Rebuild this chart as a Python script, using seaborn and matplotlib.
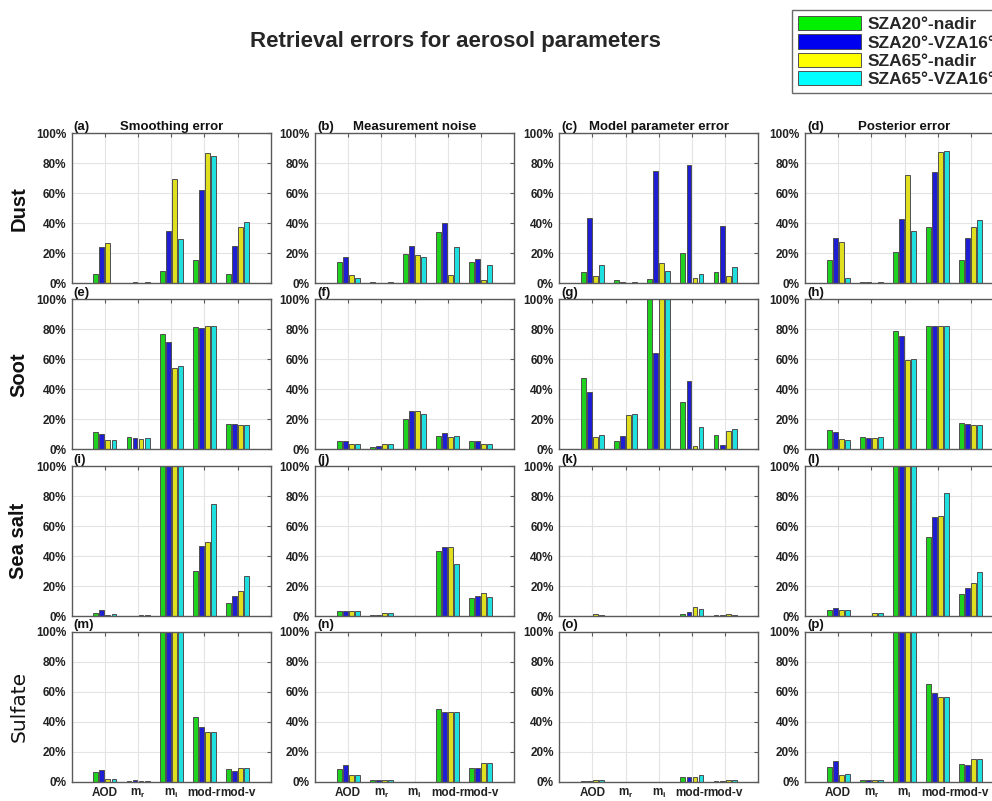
import numpy as np
import pandas as pd
import matplotlib
matplotlib.use("Agg")
import matplotlib.pyplot as plt
from matplotlib.patches import Patch
from matplotlib.ticker import FuncFormatter
import seaborn as sns

# ---------------------------------------------------------------
# Data: relative retrieval error (%) per parameter; each row is a
# parameter [AOD, m_r, m_i, mod-r, mod-v], columns are the four
# observation geometries.
# ---------------------------------------------------------------
params = ["AOD", "m_r", "m_i", "mod-r", "mod-v"]
param_labels = [r"$\mathbf{AOD}$", r"$\mathbf{m_r}$", r"$\mathbf{m_i}$",
                r"$\mathbf{mod\text{-}r}$", r"$\mathbf{mod\text{-}v}$"]
param_labels = ["AOD", r"m$_\mathbf{r}$", r"m$_\mathbf{i}$", "mod-r", "mod-v"]
scenarios = ["SZA20°-nadir", "SZA20°-VZA16°", "SZA65°-nadir", "SZA65°-VZA16°"]
colors = ["#00f000", "#0000f0", "#ffff00", "#00ffff"]

aerosols = ["Dust", "Soot", "Sea salt", "Sulfate"]
error_types = ["Smoothing error", "Measurement noise",
               "Model parameter error", "Posterior error"]

# Dust
dust_smoothing = [[6.0, 24.4, 26.8, 0.3], [0.3, 0.7, 0.2, 0.8],
                  [8.3, 35.0, 69.8, 29.8], [15.7, 62.0, 87.0, 84.6],
                  [6.5, 25.0, 37.8, 40.7]]
dust_noise = [[14.1, 17.4, 5.4, 3.4], [0.8, 0.5, 0.2, 0.6],
              [19.2, 24.6, 18.8, 17.4], [34.2, 40.0, 5.4, 24.2],
              [14.1, 16.1, 2.0, 11.9]]
dust_model = [[7.4, 43.8, 4.9, 11.9], [2.0, 0.9, 0.2, 0.7],
              [2.9, 75.0, 13.4, 8.0], [20.4, 79.0, 3.4, 6.0],
              [7.2, 38.3, 4.9, 11.0]]
dust_posterior = [[15.2, 30.0, 27.5, 3.4], [1.0, 1.0, 0.3, 1.0],
                  [20.8, 43.0, 72.5, 34.9], [37.6, 74.0, 87.2, 88.1],
                  [15.2, 30.0, 37.8, 42.5]]
# Soot
soot_smoothing = [[11.6, 10.2, 6.0, 6.0], [8.0, 7.6, 6.9, 7.3],
                  [76.7, 71.3, 54.2, 55.3], [81.6, 81.1, 82.2, 82.0],
                  [16.9, 16.7, 16.2, 16.2]]
soot_noise = [[5.3, 5.3, 3.3, 3.3], [1.6, 2.2, 3.3, 3.3],
              [20.0, 25.6, 25.3, 23.8], [8.9, 11.1, 8.0, 8.9],
              [5.3, 5.3, 3.3, 3.3]]
soot_model = [[47.6, 38.2, 8.0, 9.3], [5.8, 8.9, 23.1, 23.6],
              [118.0, 64.2, 125.0, 130.0], [31.6, 45.6, 2.0, 14.9],
              [9.8, 3.1, 12.0, 13.8]]
soot_posterior = [[12.7, 11.3, 6.7, 6.4], [8.0, 7.8, 7.6, 8.0],
                  [79.1, 75.3, 59.8, 60.4], [82.0, 82.0, 82.4, 82.4],
                  [17.8, 17.1, 16.4, 16.0]]
# Sea salt
seasalt_smoothing = [[2.0, 4.0, 0.9, 1.8], [0.2, 0.2, 0.7, 0.9],
                     [140.0, 140.0, 140.0, 140.0], [30.4, 46.9, 49.3, 74.9],
                     [8.9, 13.6, 16.7, 26.9]]
seasalt_noise = [[3.8, 3.8, 3.8, 3.8], [0.7, 0.7, 2.4, 2.2],
                 [0.1, 0.1, 0.1, 0.1], [43.6, 46.4, 46.0, 34.9],
                 [12.4, 13.3, 15.3, 12.7]]
seasalt_model = [[0.2, 0.2, 1.5, 1.2], [0.1, 0.1, 0.1, 0.1],
                 [0.1, 0.1, 0.1, 0.1], [1.6, 2.7, 6.0, 5.1],
                 [0.7, 0.9, 1.3, 1.1]]
seasalt_posterior = [[4.0, 5.3, 4.0, 4.0], [0.5, 0.5, 2.0, 2.0],
                     [140.0, 140.0, 140.0, 140.0], [52.7, 66.0, 67.1, 82.4],
                     [14.7, 18.7, 22.4, 29.8]]
# Sulfate
sulfate_smoothing = [[6.4, 7.8, 1.6, 1.6], [0.5, 0.9, 0.2, 0.2],
                     [150.0, 150.0, 150.0, 150.0], [43.3, 36.4, 32.9, 33.3],
                     [8.2, 7.1, 8.9, 8.9]]
sulfate_noise = [[8.2, 11.1, 4.2, 4.2], [0.9, 1.3, 1.3, 1.3],
                 [0.1, 0.1, 0.1, 0.1], [48.2, 46.4, 46.2, 46.2],
                 [9.1, 8.9, 12.2, 12.2]]
sulfate_model = [[0.3, 0.7, 1.3, 1.3], [0.1, 0.1, 0.1, 0.1],
                 [0.1, 0.1, 0.1, 0.1], [2.9, 2.9, 3.3, 4.2],
                 [0.4, 0.7, 1.3, 1.3]]
sulfate_posterior = [[10.0, 13.6, 4.2, 4.9], [1.1, 1.3, 1.3, 1.3],
                     [150.0, 150.0, 150.0, 150.0], [64.9, 58.9, 56.7, 56.7],
                     [12.0, 10.9, 14.9, 14.9]]

panels = [
    [dust_smoothing, dust_noise, dust_model, dust_posterior],
    [soot_smoothing, soot_noise, soot_model, soot_posterior],
    [seasalt_smoothing, seasalt_noise, seasalt_model, seasalt_posterior],
    [sulfate_smoothing, sulfate_noise, sulfate_model, sulfate_posterior],
]
panel_letters = "abcdefghijklmnop"

# ---------------------------------------------------------------
sns.set_theme(style="white")
plt.rcParams["font.family"] = ["Liberation Sans", "DejaVu Sans"]
plt.rcParams["mathtext.fontset"] = "custom"
plt.rcParams["mathtext.rm"] = "Liberation Sans:bold"
plt.rcParams["mathtext.bf"] = "Liberation Sans:bold"
plt.rcParams["mathtext.it"] = "Liberation Sans:bold"

W, H = 992, 801
fig = plt.figure(figsize=(W / 100, H / 100), dpi=100)

col_left = [71.7, 315.0, 559.3, 805.0]
row_top = [133.3, 299.3, 466.3, 631.7]
ax_w, ax_h = 199.0, 150.0

spine_col = "#5a5a5a"
pct = FuncFormatter(lambda v, _: f"{v:.0f}%")

for r in range(4):
    for c in range(4):
        vals = np.array(panels[r][c])
        df = pd.DataFrame({
            "param": np.repeat(params, len(scenarios)),
            "scenario": np.tile(scenarios, len(params)),
            "value": vals.ravel(),
        })
        ax = fig.add_axes([col_left[c] / W, 1 - (row_top[r] + ax_h) / H,
                           ax_w / W, ax_h / H])
        sns.barplot(data=df, x="param", y="value", hue="scenario",
                    order=params, hue_order=scenarios, palette=colors,
                    width=0.73, gap=0.2, errorbar=None, legend=False,
                    edgecolor="#505050", linewidth=0.7, ax=ax)
        ax.set_xlim(-1, 5)
        ax.set_ylim(0, 100)
        ax.set_yticks([0, 20, 40, 60, 80, 100])
        ax.yaxis.set_major_formatter(pct)
        ax.set_xticks(range(len(params)))
        ax.set_xlabel("")
        ax.set_ylabel("")
        ax.grid(True, color="#e4e4e4", linewidth=0.8)
        ax.set_axisbelow(True)
        for s in ax.spines.values():
            s.set_color(spine_col)
            s.set_linewidth(1.0)
        ax.tick_params(axis="both", direction="in", length=3, width=0.8,
                       color=spine_col, right=True, top=True, pad=4)
        for lab in ax.get_yticklabels():
            lab.set_fontsize(8.5)
            lab.set_fontweight("bold")
            lab.set_color("#222222")
        if r == 3:
            ax.set_xticklabels(param_labels, fontsize=8.5, fontweight="bold",
                               color="#222222")
        else:
            ax.set_xticklabels([])
        ax.text(0.01, 1.005, f"({panel_letters[r * 4 + c]})",
                transform=ax.transAxes, ha="left", va="bottom",
                fontsize=9.5, fontweight="bold", color="#111111")
        if r == 0:
            ax.text(0.5, 1.005, error_types[c], transform=ax.transAxes,
                    ha="center", va="bottom", fontsize=9.5,
                    fontweight="bold", color="#111111")

# Row labels (aerosol types)
for r, name in enumerate(aerosols):
    yc = 1 - (row_top[r] + ax_h / 2) / H
    kw = dict(fontsize=14.5, fontweight="bold")
    if name == "Sulfate":
        kw = dict(fontsize=14.5, fontweight="normal", family=["DejaVu Sans"])
    fig.text(19 / W, yc, name, rotation=90, ha="center", va="center",
             color="#111111", **kw)

fig.text(455 / W, 1 - 42 / H, "Retrieval errors for aerosol parameters",
         ha="center", va="center", fontsize=16, fontweight="bold")

handles = [Patch(facecolor=col, edgecolor="#505050", linewidth=0.7)
           for col in colors]
leg = fig.legend(handles, scenarios, loc="upper left",
                 bbox_to_anchor=(792 / W, 1 - 10 / H),
                 prop={"family": "Liberation Sans", "weight": "bold",
                       "size": 12.5},
                 handlelength=3.6, handleheight=0.9, labelspacing=0.12,
                 handletextpad=0.4, borderpad=0.35, borderaxespad=0,
                 fancybox=False, frameon=True)
leg.get_frame().set_edgecolor("#444444")
leg.get_frame().set_linewidth(1.0)

fig.savefig("out.png", dpi=100)
